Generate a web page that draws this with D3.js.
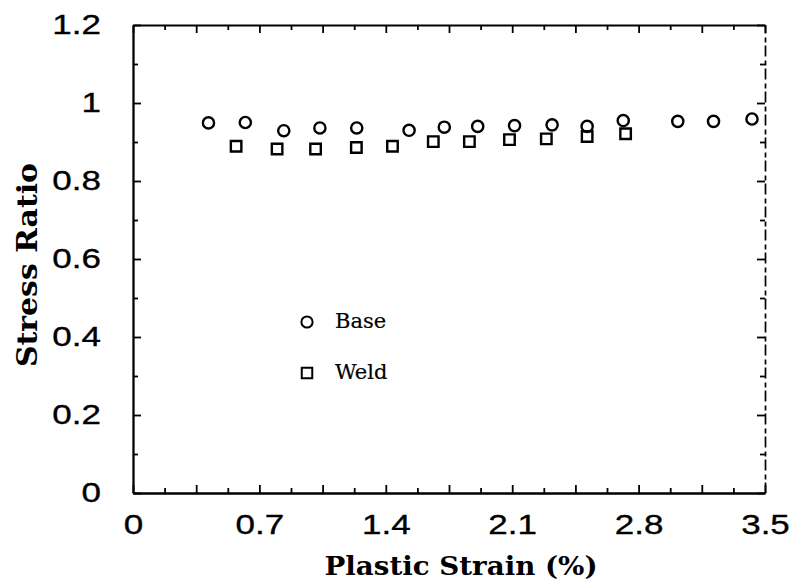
<!DOCTYPE html>
<html>
<head>
<meta charset="utf-8">
<script src="https://cdn.jsdelivr.net/npm/d3@7"></script>
<style>
  body { margin: 0; background: #fff; }
  svg { display: block; }
</style>
</head>
<body>
<svg id="chart" width="793" height="581"></svg>
<script>
// Stress ratio vs. plastic strain for base metal and weld metal
const baseStrain = [0.418, 0.622, 0.835, 1.035, 1.239, 1.529, 1.724, 1.909, 2.113, 2.321, 2.515, 2.715, 3.017, 3.215, 3.428];
const baseRatio  = [0.949, 0.950, 0.929, 0.936, 0.936, 0.930, 0.938, 0.940, 0.942, 0.944, 0.940, 0.955, 0.953, 0.953, 0.959];
const weldStrain = [0.571, 0.798, 1.011, 1.237, 1.437, 1.663, 1.863, 2.085, 2.289, 2.515, 2.728];
const weldRatio  = [0.889, 0.882, 0.882, 0.886, 0.889, 0.901, 0.901, 0.906, 0.908, 0.914, 0.921];

const xLabelValues = [0, 0.7, 1.4, 2.1, 2.8, 3.5];
const xLabels      = ["0", "0.7", "1.4", "2.1", "2.8", "3.5"];
const yLabelValues = [0, 0.2, 0.4, 0.6, 0.8, 1, 1.2];
const yLabels      = ["0", "0.2", "0.4", "0.6", "0.8", "1", "1.2"];
const xMajorTicks  = [0, 0.35, 0.7, 1.05, 1.4, 1.75, 2.1, 2.45, 2.8, 3.15, 3.5];
const xMinorTicks  = [0.175, 0.525, 0.875, 1.225, 1.575, 1.925, 2.275, 2.625, 2.975, 3.325];
const yMajorTicks  = [0, 0.2, 0.4, 0.6, 0.8, 1, 1.2];
const yMinorTicks  = [0.1, 0.3, 0.5, 0.7, 0.9, 1.1];

const xTitle = "Plastic Strain (%)";
const yTitle = "Stress Ratio";
const seriesNames = ["Base", "Weld"];

const svg = d3.select("#chart");
const plotLeft = 133, plotRight = 765, plotTop = 25, plotBottom = 493;

const x = d3.scaleLinear().domain([0, 3.5]).range([plotLeft, plotRight]);
const y = d3.scaleLinear().domain([0, 1.2]).range([plotBottom, plotTop]);

const tickFont = "'Liberation Sans', Arial, Helvetica, sans-serif";
const serif = "'DejaVu Serif', 'Liberation Serif', serif";
const MAJOR = 8, MINOR = 5;

function styleAxis(g, width) {
  g.select(".domain").attr("stroke", "#000").attr("stroke-width", width);
  g.selectAll(".tick line").attr("stroke", "#000").attr("stroke-width", 1.8);
}

function styleLabels(sel) {
  sel.attr("fill", "#000")
    .attr("stroke", "#000")
    .attr("stroke-width", 0.35)
    .attr("font-family", tickFont)
    .attr("font-size", 28);
}

// minor ticks (no labels) on all four sides
svg.append("g").attr("transform", `translate(0,${plotBottom})`)
  .call(d3.axisBottom(x).tickValues(xMinorTicks).tickSizeInner(-MINOR).tickSizeOuter(0).tickFormat(""))
  .call(g => { g.select(".domain").remove(); styleAxis(g, 0); });
svg.append("g").attr("transform", `translate(0,${plotTop})`)
  .call(d3.axisTop(x).tickValues(xMinorTicks).tickSizeInner(-MINOR).tickSizeOuter(0).tickFormat(""))
  .call(g => { g.select(".domain").remove(); styleAxis(g, 0); });
svg.append("g").attr("transform", `translate(${plotLeft},0)`)
  .call(d3.axisLeft(y).tickValues(yMinorTicks).tickSizeInner(-MINOR).tickSizeOuter(0).tickFormat(""))
  .call(g => { g.select(".domain").remove(); styleAxis(g, 0); });
svg.append("g").attr("transform", `translate(${plotRight},0)`)
  .call(d3.axisRight(y).tickValues(yMinorTicks).tickSizeInner(-MINOR).tickSizeOuter(0).tickFormat(""))
  .call(g => { g.select(".domain").remove(); styleAxis(g, 0); });

const xLabelOf = v => { const i = xLabelValues.findIndex(d => Math.abs(d - v) < 1e-9); return i < 0 ? "" : xLabels[i]; };
const yLabelOf = v => { const i = yLabelValues.findIndex(d => Math.abs(d - v) < 1e-9); return i < 0 ? "" : yLabels[i]; };

// bottom axis with labels
svg.append("g").attr("transform", `translate(0,${plotBottom})`)
  .call(d3.axisBottom(x).tickValues(xMajorTicks).tickSizeInner(-MAJOR).tickSizeOuter(0).tickPadding(21).tickFormat(xLabelOf))
  .call(g => {
    styleAxis(g, 2.3);
    g.selectAll(".tick text")
      .call(styleLabels)
      .attr("transform", "scale(1.25,1)");
  });

// top axis
svg.append("g").attr("transform", `translate(0,${plotTop})`)
  .call(d3.axisTop(x).tickValues(xMajorTicks).tickSizeInner(-MAJOR).tickSizeOuter(0).tickFormat(""))
  .call(g => styleAxis(g, 1.9));

// left axis with labels
svg.append("g").attr("transform", `translate(${plotLeft},0)`)
  .call(d3.axisLeft(y).tickValues(yMajorTicks).tickSizeInner(-MAJOR).tickSizeOuter(0).tickPadding(32).tickFormat(yLabelOf))
  .call(g => {
    styleAxis(g, 2.3);
    g.selectAll(".tick text")
      .call(styleLabels)
      .attr("x", -32 / 1.25)
      .attr("transform", "scale(1.25,1)");
  });

// right axis, broken line
svg.append("g").attr("transform", `translate(${plotRight},0)`)
  .call(d3.axisRight(y).tickValues(yMajorTicks).tickSizeInner(-MAJOR).tickSizeOuter(0).tickFormat(""))
  .call(g => {
    styleAxis(g, 1.7);
    g.select(".domain").attr("stroke-dasharray", "11,3,5,4");
  });

// axis titles
svg.append("text")
  .attr("x", 461).attr("y", 575)
  .attr("text-anchor", "middle")
  .attr("font-family", serif).attr("font-weight", "bold").attr("font-size", 26)
  .attr("textLength", 273).attr("lengthAdjust", "spacingAndGlyphs")
  .text(xTitle);

svg.append("text")
  .attr("transform", "translate(37,265) rotate(-90)")
  .attr("text-anchor", "middle")
  .attr("font-family", serif).attr("font-weight", "bold").attr("font-size", 27)
  .attr("textLength", 204).attr("lengthAdjust", "spacingAndGlyphs")
  .text(yTitle);

// markers
const circle = d3.symbol().type(d3.symbolCircle).size(Math.PI * 5.6 * 5.6);
const square = d3.symbol().type(d3.symbolSquare).size(10.5 * 10.5);

const baseData = baseStrain.map((s, i) => ({ s, r: baseRatio[i] }));
const weldData = weldStrain.map((s, i) => ({ s, r: weldRatio[i] }));

svg.append("g").selectAll("path").data(weldData).join("path")
  .attr("d", square)
  .attr("transform", d => `translate(${x(d.s)},${y(d.r)})`)
  .attr("fill", "none").attr("stroke", "#000").attr("stroke-width", 2.4);

svg.append("g").selectAll("path").data(baseData).join("path")
  .attr("d", circle)
  .attr("transform", d => `translate(${x(d.s)},${y(d.r)})`)
  .attr("fill", "none").attr("stroke", "#000").attr("stroke-width", 2.4);

// legend
const legend = svg.append("g").attr("font-family", serif).attr("font-size", 21)
  .attr("stroke", "#000").attr("stroke-width", 0.2);
legend.append("path").attr("d", circle).attr("transform", "translate(307,322)")
  .attr("fill", "none").attr("stroke", "#000").attr("stroke-width", 2);
legend.append("text").attr("x", 335).attr("y", 328).text(seriesNames[0]);
legend.append("path").attr("d", square).attr("transform", "translate(307,373)")
  .attr("fill", "none").attr("stroke", "#000").attr("stroke-width", 2);
legend.append("text").attr("x", 335).attr("y", 379).text(seriesNames[1]);
</script>
</body>
</html>
